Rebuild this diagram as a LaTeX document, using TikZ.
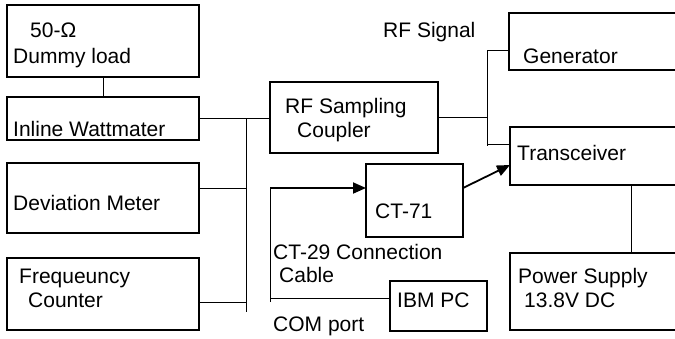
\documentclass[tikz,border=0pt]{standalone}
\usepackage{fontspec}
\setmainfont{Liberation Sans}
\usetikzlibrary{arrows.meta}
\begin{document}
\begin{tikzpicture}[x=1pt,y=-1pt,
  box/.style={draw,line width=2.6pt,inner sep=0pt,outer sep=0pt},
  lbl/.style={anchor=base west,inner sep=0pt,font=\fontsize{21}{25}\selectfont},
  wire/.style={line width=0.9pt},
  arr/.style={line width=1.8pt,-{Triangle[length=13pt,width=11pt]}}]
\useasboundingbox (0,0) rectangle (675,338);
\clip (0,0) rectangle (675,338);
% boxes
\node[box,minimum width=192pt,minimum height=72pt] (dummy) at (103,41) {};
\node[box,minimum width=192pt,minimum height=43pt] (watt) at (103,118.5) {};
\node[box,minimum width=192pt,minimum height=70pt] (dev) at (103,198) {};
\node[box,minimum width=192pt,minimum height=72pt] (freq) at (103,294) {};
\node[box,minimum width=168pt,minimum height=71pt] (coupler) at (354,117.5) {};
\node[box,minimum width=191pt,minimum height=57pt] (gen) at (604.5,41.5) {};
\node[box,minimum width=190pt,minimum height=58pt] (trans) at (605,156) {};
\node[box,minimum width=190pt,minimum height=77pt] (power) at (605,291.5) {};
\node[box,minimum width=97pt,minimum height=73pt] (ct) at (414.5,200.5) {};
\node[box,minimum width=97pt,minimum height=50pt] (ibm) at (438.5,306) {};
% labels
\node[lbl] (t1) at (30,37) {50-Ω};
\node[lbl] (t2) at (13,63) {Dummy load};
\node[lbl] (t3) at (13,136) {Inline Wattmater};
\node[lbl] (t4) at (13,210) {Deviation Meter};
\node[lbl] (t5) at (19,283) {Frequeuncy};
\node[lbl] (t6) at (28,307) {Counter};
\node[lbl] (t7) at (285,113) {RF Sampling};
\node[lbl] (t8) at (297,137) {Coupler};
\node[lbl] (t9) at (383,37) {RF Signal};
\node[lbl] (t10) at (523,63) {Generator};
\node[lbl] (t11) at (517,160) {Transceiver};
\node[lbl] (t12) at (518,283) {Power Supply};
\node[lbl] (t13) at (524,307) {13.8V DC};
\node[lbl] (t14) at (375,218) {CT-71};
\node[lbl] (t15) at (273,259) {CT-29 Connection};
\node[lbl] (t16) at (279,282) {Cable};
\node[lbl] (t17) at (273,331) {COM port};
\node[lbl] (t18) at (397,307) {IBM PC};
% helper coordinates
\coordinate (busx) at (246,0);
\coordinate (busB) at (246,312);
\coordinate (rbx) at (487,0);
\coordinate (px) at (631,0);
\coordinate (cx) at (270,0);
% left wiring
\draw[wire] (dummy.south) -- (watt.north);
\draw[wire] (watt.east) -- (watt.east -| coupler.west);
\draw[wire] (watt.east -| busx) -- (busB);
\draw[wire] ([yshift=10pt]dev.east) -- ([yshift=10pt]dev.east -| busx);
\draw[wire] ([yshift=-8pt]freq.east) -- ([yshift=-8pt]freq.east -| busx);
% right wiring
\draw[wire] (coupler.east) -- (coupler.east -| rbx);
\draw[wire] ([yshift=-8.5pt]gen.west) -- ([yshift=-8.5pt]gen.west -| rbx) -- ([yshift=10pt]trans.west -| rbx);
\draw[wire] ([yshift=12pt]trans.west) -- ([yshift=12pt]trans.west -| rbx);
\draw[wire] (trans.south -| px) -- (power.north -| px);
% computer wiring
\draw[wire] ([yshift=8pt]ibm.west) -- ([yshift=8pt]ibm.west -| cx);
\draw[wire] ([yshift=4pt]ibm.west -| cx) -- ([yshift=12.5pt]ct.west -| cx);
\draw[arr] ([yshift=12.5pt]ct.west -| cx) -- ([yshift=12.5pt]ct.west);
\draw[arr] ([yshift=12.5pt]ct.east) -- ([yshift=-9pt]trans.west);
\end{tikzpicture}
\end{document}
